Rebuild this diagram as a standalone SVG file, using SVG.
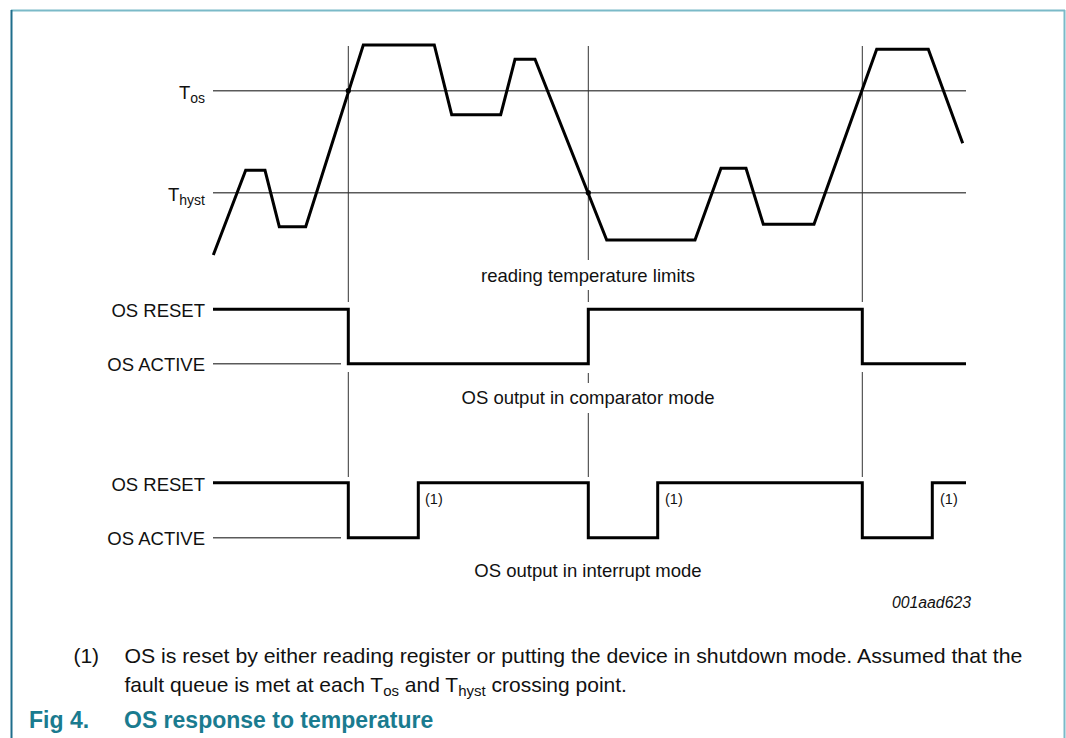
<svg xmlns="http://www.w3.org/2000/svg" width="1066" height="738" viewBox="0 0 1066 738">
<style>
text{font-family:"Liberation Sans",Arial,sans-serif;fill:#111}
.lbl{font-size:18.5px}
.thin{stroke:#333;stroke-width:1;fill:none}
.ref{stroke:#5a5a5a;stroke-width:1.4;fill:none}
.sig{stroke:#000;stroke-width:3;fill:none;stroke-linejoin:miter}
.note{font-size:14.5px}
.foot{font-size:21px}
.cap{font-size:23px;font-weight:bold;fill:#1a7b8f}
</style>
<rect x="0" y="0" width="1066" height="738" fill="#fff"/>
<g id="frame">
<line x1="11" y1="10.5" x2="1065" y2="10.5" stroke="#7bbac8" stroke-width="2"/>
<line x1="1064.5" y1="10" x2="1064.5" y2="738" stroke="#7bbac8" stroke-width="2"/>
<line x1="11.5" y1="10" x2="11.5" y2="738" stroke="#1f6e8c" stroke-width="2"/>
</g>
<g id="connectors">
<line class="ref" x1="213" y1="90.7" x2="966" y2="90.7"/>
<line class="ref" x1="213" y1="192.7" x2="966" y2="192.7"/>
<line class="thin" x1="348.3" y1="46" x2="348.3" y2="302"/>
<line class="thin" x1="348.3" y1="372" x2="348.3" y2="477"/>
<line class="thin" x1="588.3" y1="46" x2="588.3" y2="260"/>
<line class="thin" x1="588.3" y1="290" x2="588.3" y2="302"/>
<line class="thin" x1="588.3" y1="373" x2="588.3" y2="383"/>
<line class="thin" x1="588.3" y1="413" x2="588.3" y2="477"/>
<line class="thin" x1="862.3" y1="46" x2="862.3" y2="302"/>
<line class="thin" x1="862.3" y1="372" x2="862.3" y2="477"/>
<line class="ref" x1="213" y1="363.7" x2="341" y2="363.7"/>
<line class="ref" x1="213" y1="537.7" x2="341" y2="537.7"/>
</g>
<g id="temperature">
<text class="lbl" x="205" y="99" text-anchor="end" font-size="19">T<tspan font-size="14" dy="3.5">os</tspan></text>
<text class="lbl" x="205" y="201" text-anchor="end" font-size="19">T<tspan font-size="14" dy="3.5">hyst</tspan></text>
<polyline class="sig" points="213.3,255 245.7,170.3 265,170.3 279.3,226.7 305.7,226.7 363.3,45 434.3,45 451.7,114.7 500.7,114.7 515,59.3 535,59.3 606.7,240 695,240 721,168.3 746,168.3 763.3,224.3 814,224.3 876.7,49.3 928.3,49.3 962.7,143.3"/>
<circle cx="348.3" cy="90.7" r="2.6" fill="#000"/>
<circle cx="588.3" cy="192.7" r="2.6" fill="#000"/>
<text class="lbl" x="588" y="282" text-anchor="middle">reading temperature limits</text>
</g>
<g id="comparator">
<text class="lbl" x="205" y="317" text-anchor="end">OS RESET</text>
<text class="lbl" x="205" y="371" text-anchor="end">OS ACTIVE</text>
<polyline class="sig" points="213,309.3 348.3,309.3 348.3,363.7 588.3,363.7 588.3,309.3 862.3,309.3 862.3,363.7 966,363.7"/>
<text class="lbl" x="588" y="404" text-anchor="middle">OS output in comparator mode</text>
</g>
<g id="interrupt">
<text class="lbl" x="205" y="490.7" text-anchor="end">OS RESET</text>
<text class="lbl" x="205" y="544.7" text-anchor="end">OS ACTIVE</text>
<polyline class="sig" points="213,482.7 348.3,482.7 348.3,537.7 418.3,537.7 418.3,482.7 588.3,482.7 588.3,537.7 657.7,537.7 657.7,482.7 862.3,482.7 862.3,537.7 932.3,537.7 932.3,482.7 966,482.7"/>
<text class="note" x="425" y="504">(1)</text>
<text class="note" x="665" y="504">(1)</text>
<text class="note" x="940" y="504">(1)</text>
<text class="lbl" x="588" y="577" text-anchor="middle">OS output in interrupt mode</text>
</g>
<g id="footer">
<text x="971" y="608" text-anchor="end" font-size="15.8" font-style="italic">001aad623</text>
<text class="foot" x="73.4" y="663">(1)</text>
<text class="foot" x="124.4" y="663" textLength="898" lengthAdjust="spacingAndGlyphs">OS is reset by either reading register or putting the device in shutdown mode. Assumed that the</text>
<text class="foot" x="124.4" y="692">fault queue is met at each T<tspan font-size="15" dy="3.5">os</tspan><tspan dy="-3.5"> and T</tspan><tspan font-size="15" dy="3.5">hyst</tspan><tspan dy="-3.5"> crossing point.</tspan></text>
<text class="cap" x="29" y="728">Fig 4.</text>
<text class="cap" x="124" y="728">OS response to temperature</text>
</g>
</svg>
